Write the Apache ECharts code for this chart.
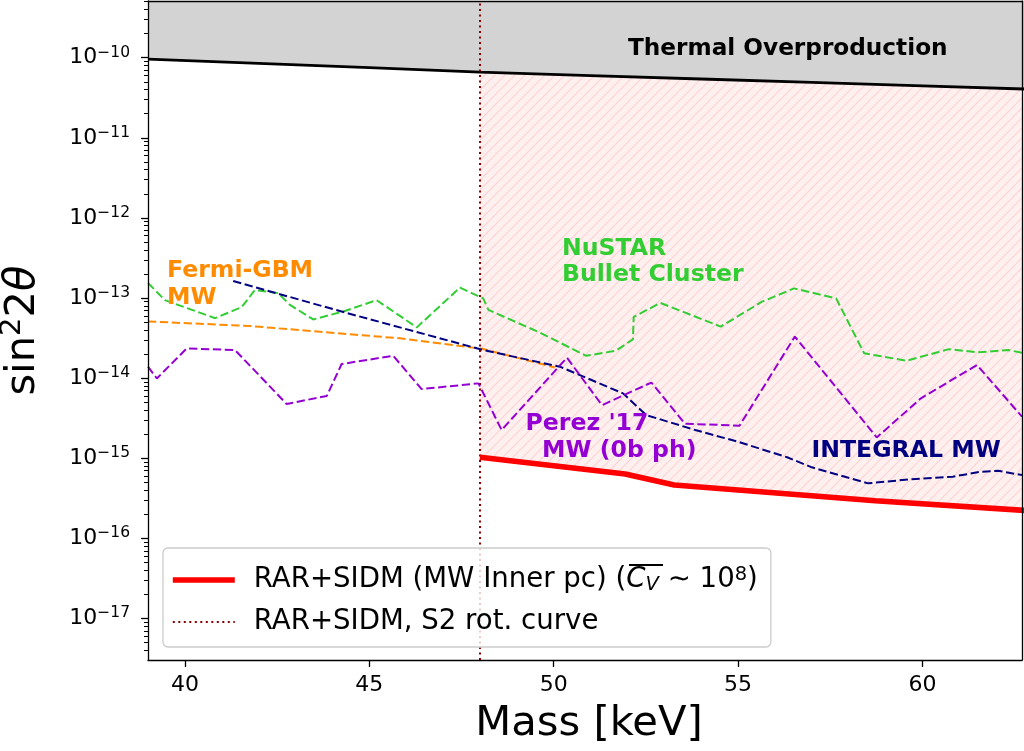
<!DOCTYPE html>
<html><head><meta charset="utf-8">
<script src="https://cdn.jsdelivr.net/npm/echarts@6/dist/echarts.min.js"></script>
<style>html,body{margin:0;padding:0;background:#fff}#c{width:1024px;height:751px}</style>
</head><body><div id="c"></div>
<script>
const FONT = 'DejaVu Sans';

// ---- data ----
const thermalMass = [39, 42, 45, 48, 51, 54, 57, 60, 63];
const thermalVal  = [9.6e-11, 8.5e-11, 7.5e-11, 6.6e-11, 5.98e-11, 5.42e-11, 4.91e-11, 4.45e-11, 4.03e-11];

const redMass = [48.0, 51.94, 53.27, 58.72, 62.8];
const redVal  = [1.03e-15, 6.35e-16, 4.63e-16, 2.95e-16, 2.23e-16];

const s2Mass = 48.0;

const greenMass = [39.0, 39.46, 40.82, 41.54, 41.90, 42.53, 42.85, 43.48, 44.30, 45.20, 46.29, 47.46, 48.09, 48.23, 49.63, 50.88, 51.69, 52.15, 52.17, 52.89, 54.53, 55.65, 56.52, 57.66, 58.42, 59.57, 60.72, 61.48, 62.34, 62.70];
const greenVal  = [1.54e-13, 9.4e-14, 5.6e-14, 7.7e-14, 1.26e-13, 1.15e-13, 8.2e-14, 5.4e-14, 6.8e-14, 9.4e-14, 4.3e-14, 1.35e-13, 9.9e-14, 7.1e-14, 3.7e-14, 1.9e-14, 2.2e-14, 3.05e-14, 5.8e-14, 8.7e-14, 4.4e-14, 9.0e-14, 1.32e-13, 9.9e-14, 2.04e-14, 1.65e-14, 2.3e-14, 2.1e-14, 2.24e-14, 2.07e-14];

const orangeMass = [39.0, 41.77, 45.83, 48.09, 50.03];
const orangeVal  = [5.1e-14, 4.47e-14, 3.14e-14, 2.31e-14, 1.36e-14];

const navyMass = [41.31, 44.34, 48.09, 50.17, 51.88, 52.51, 53.84, 54.99, 56.33, 57.0, 58.53, 59.67, 60.82, 61.58, 62.05, 62.70];
const navyVal  = [1.63e-13, 6.6e-14, 2.24e-14, 1.39e-14, 6.45e-15, 3.46e-15, 2.25e-15, 1.61e-15, 1.03e-15, 7.7e-16, 4.86e-16, 5.45e-16, 5.88e-16, 6.78e-16, 6.98e-16, 6.16e-16];

const purpleMass = [39.0, 39.24, 40.05, 41.36, 42.76, 43.85, 44.25, 45.65, 46.42, 47.96, 48.59, 50.36, 51.31, 52.65, 53.56, 55.04, 56.54, 58.76, 59.96, 61.48, 62.70];
const purpleVal  = [1.39e-14, 9.9e-15, 2.35e-14, 2.24e-14, 4.75e-15, 6.0e-15, 1.5e-14, 1.9e-14, 7.3e-15, 8.6e-15, 2.25e-15, 1.8e-14, 4.6e-15, 8.8e-15, 2.7e-15, 2.55e-15, 3.3e-14, 1.82e-15, 5.6e-15, 1.46e-14, 3.3e-15];

const xTicks = [40, 45, 50, 55, 60];
const yTicks = [1e-17, 1e-16, 1e-15, 1e-14, 1e-13, 1e-12, 1e-11, 1e-10];
const xMin = 39, xMax = 62.7;
const yMin = 3.03e-18, yMax = 5.1e-10;

const legendNames = ['RAR+SIDM (MW Inner pc)', 'RAR+SIDM, S2 rot. curve'];

// minor log ticks 2..9 x 10^n
const yMinor = [];
for (let e = -18; e <= -10; e++) for (let k = 2; k <= 9; k++) {
  const v = k * Math.pow(10, e);
  if (v > yMin && v < yMax) yMinor.push(v);
}

const pair = (xs, ys) => xs.map((x, i) => [x, ys[i]]);

function hatch() {
  const c = document.createElement('canvas');
  c.width = 10; c.height = 10;
  const g = c.getContext('2d');
  g.fillStyle = 'rgba(255,0,0,0.06)'; g.fillRect(0, 0, 10, 10);
  g.strokeStyle = 'rgba(255,0,0,0.13)'; g.lineWidth = 1.2;
  g.beginPath();
  g.moveTo(0, 10); g.lineTo(10, 0);
  g.moveTo(-5, 5); g.lineTo(5, -5);
  g.moveTo(5, 15); g.lineTo(15, 5);
  g.stroke();
  return c;
}

const dashed = (name, xs, ys, color) => ({
  name, type: 'line', data: pair(xs, ys), symbol: 'none', z: 4, silent: true,
  itemStyle: { color },
  lineStyle: { color, width: 2, type: [8.3, 3.6] }
});

const chart = echarts.init(document.getElementById('c'), null, { renderer: 'canvas' });
const axBlack = { color: '#000', width: 1.3 };

chart.setOption({
  animation: false,
  backgroundColor: '#fff',
  grid: { left: 148, right: 2, top: 1, bottom: 91, containLabel: false, outerBoundsMode: 'none' },
  xAxis: [{
    type: 'value', min: xMin, max: xMax, z: 10,
    axisLine: { onZero: false, lineStyle: axBlack },
    axisTick: { length: 7, customValues: xTicks, lineStyle: axBlack },
    axisLabel: { customValues: xTicks, fontSize: 22, fontFamily: FONT, color: '#000', margin: 14 },
    splitLine: { show: false },
    name: 'Mass [keV]', nameLocation: 'middle', nameGap: 43,
    nameTextStyle: { fontSize: 41.7, fontFamily: FONT, color: '#000', padding: [0, 0, 0, 8] }
  }, {
    type: 'value', min: xMin, max: xMax, position: 'top', z: 10,
    axisLine: { onZero: false, lineStyle: axBlack },
    axisTick: { show: false }, axisLabel: { show: false }, splitLine: { show: false }
  }],
  yAxis: [{
    type: 'log', logBase: 10, min: yMin, max: yMax, z: 10, position: 'left',
    axisLine: { show: true, onZero: false, lineStyle: axBlack },
    axisTick: { length: 7, customValues: yTicks, lineStyle: axBlack },
    axisLabel: {
      customValues: yTicks, margin: 18, color: '#000',
      formatter: v => '{b|10}{e|\u2212' + Math.round(-Math.log10(v)) + '}',
      rich: {
        b: { fontSize: 22, fontFamily: FONT, color: '#000', lineHeight: 26 },
        e: { fontSize: 15.5, fontFamily: FONT, color: '#000', verticalAlign: 'top', lineHeight: 16 }
      }
    },
    splitLine: { show: false },
    name: '{n|sin}{s|2}{n|2}{t|\u03b8}', nameLocation: 'middle', nameRotate: 90, nameGap: 100,
    nameTextStyle: {
      rich: {
        n: { fontSize: 41.7, fontFamily: FONT, color: '#000', lineHeight: 50 },
        s: { fontSize: 29, fontFamily: FONT, color: '#000', verticalAlign: 'top', lineHeight: 34 },
        t: { fontSize: 41.7, fontFamily: FONT, fontStyle: 'italic', color: '#000', lineHeight: 50 }
      }
    }
  }, {
    type: 'log', logBase: 10, min: yMin, max: yMax, z: 10, position: 'left',
    axisLine: { show: false },
    axisTick: { length: 4, customValues: yMinor, lineStyle: { color: '#000', width: 1 } },
    axisLabel: { show: false }, splitLine: { show: false }
  }, {
    type: 'log', logBase: 10, min: yMin, max: yMax, z: 10, position: 'right',
    axisLine: { show: true, onZero: false, lineStyle: axBlack },
    axisTick: { show: false }, axisLabel: { show: false }, splitLine: { show: false }
  }],
  legend: {
    orient: 'vertical', left: 163, top: 548, z: 20,
    padding: [17, 13, 11, 7], itemGap: 13, itemWidth: 62, itemHeight: 14,
    backgroundColor: 'rgba(255,255,255,0.8)', borderColor: '#cccccc', borderWidth: 1.3, borderRadius: 5,
    data: [
      { name: legendNames[0], itemStyle: { opacity: 0 }, lineStyle: { color: '#ff0000', width: 5.6 } },
      { name: legendNames[1], itemStyle: { opacity: 0 }, lineStyle: { color: '#8b0000', width: 2, type: [2, 3.5] } }
    ],
    formatter: n => n === legendNames[0]
      ? '{a|RAR+SIDM (MW Inner pc) (}{i|C}{s|V}{a| \u223c 10}{p|8}{a|)}'
      : '{a|RAR+SIDM, S2 rot. curve}',
    textStyle: {
      padding: [0, 0, 0, 14],
      rich: {
        a: { fontSize: 27.6, fontFamily: FONT, color: '#000', lineHeight: 30 },
        i: { fontSize: 27.6, fontFamily: FONT, fontStyle: 'italic', color: '#000', lineHeight: 30 },
        s: { fontSize: 19.5, fontFamily: FONT, fontStyle: 'italic', color: '#000', lineHeight: 20, verticalAlign: 'bottom' },
        p: { fontSize: 19.5, fontFamily: FONT, color: '#000', lineHeight: 24, verticalAlign: 'top' }
      }
    }
  },
  series: [
    { name: 'hatch', type: 'line', data: pair(redMass, redVal), symbol: 'none', z: 1, silent: true,
      lineStyle: { width: 0, opacity: 0 },
      areaStyle: { origin: 'end', opacity: 1, color: { image: hatch(), repeat: 'repeat' } } },
    { name: 'thermal', type: 'line', data: pair(thermalMass, thermalVal), symbol: 'none', z: 2, silent: true,
      lineStyle: { color: '#000', width: 2.8 },
      areaStyle: { origin: 'end', opacity: 1, color: '#d3d3d3' } },
    dashed('NuSTAR', greenMass, greenVal, '#32cd32'),
    dashed('Fermi', orangeMass, orangeVal, '#ff8c00'),
    dashed('INTEGRAL', navyMass, navyVal, '#000080'),
    dashed('Perez', purpleMass, purpleVal, '#9400d3'),
    { name: legendNames[0], type: 'line', data: pair(redMass, redVal), symbol: 'none', z: 5, silent: true,
      itemStyle: { color: '#ff0000' },
      lineStyle: { color: '#ff0000', width: 5.6 } },
    { name: legendNames[1], type: 'line', data: [], symbol: 'none', z: 6, silent: true,
      itemStyle: { color: '#8b0000' },
      lineStyle: { color: '#8b0000', width: 2, type: [2, 3.5] },
      markLine: { symbol: 'none', silent: true, label: { show: false },
        lineStyle: { color: '#8b0000', width: 2, type: [2, 3.5] },
        data: [{ xAxis: s2Mass }] } }
  ],
  graphic: [
    { type: 'text', z: 30, x: 628, y: 49, style: { text: 'Thermal Overproduction', font: 'bold 23.2px "DejaVu Sans"', fill: '#000', verticalAlign: 'middle' } },
    { type: 'text', z: 30, x: 167, y: 271, style: { text: 'Fermi-GBM', font: 'bold 23.6px "DejaVu Sans"', fill: '#ff8c00', verticalAlign: 'middle' } },
    { type: 'text', z: 30, x: 167, y: 297.5, style: { text: 'MW', font: 'bold 23.6px "DejaVu Sans"', fill: '#ff8c00', verticalAlign: 'middle' } },
    { type: 'text', z: 30, x: 562, y: 248.5, style: { text: 'NuSTAR', font: 'bold 23.6px "DejaVu Sans"', fill: '#32cd32', verticalAlign: 'middle' } },
    { type: 'text', z: 30, x: 562, y: 275, style: { text: 'Bullet Cluster', font: 'bold 23.6px "DejaVu Sans"', fill: '#32cd32', verticalAlign: 'middle' } },
    { type: 'text', z: 30, x: 525.5, y: 424, style: { text: "Perez '17", font: 'bold 23.6px "DejaVu Sans"', fill: '#9400d3', verticalAlign: 'middle' } },
    { type: 'text', z: 30, x: 542, y: 450.5, style: { text: 'MW (0b ph)', font: 'bold 23.6px "DejaVu Sans"', fill: '#9400d3', verticalAlign: 'middle' } },
    { type: 'text', z: 30, x: 811.5, y: 450.5, style: { text: 'INTEGRAL MW', font: 'bold 23.6px "DejaVu Sans"', fill: '#000080', verticalAlign: 'middle' } },
    { type: 'line', z: 30, shape: { x1: 629, y1: 565, x2: 663, y2: 565 }, style: { stroke: '#000', lineWidth: 2 } }
  ]
});
</script>
</body></html>
